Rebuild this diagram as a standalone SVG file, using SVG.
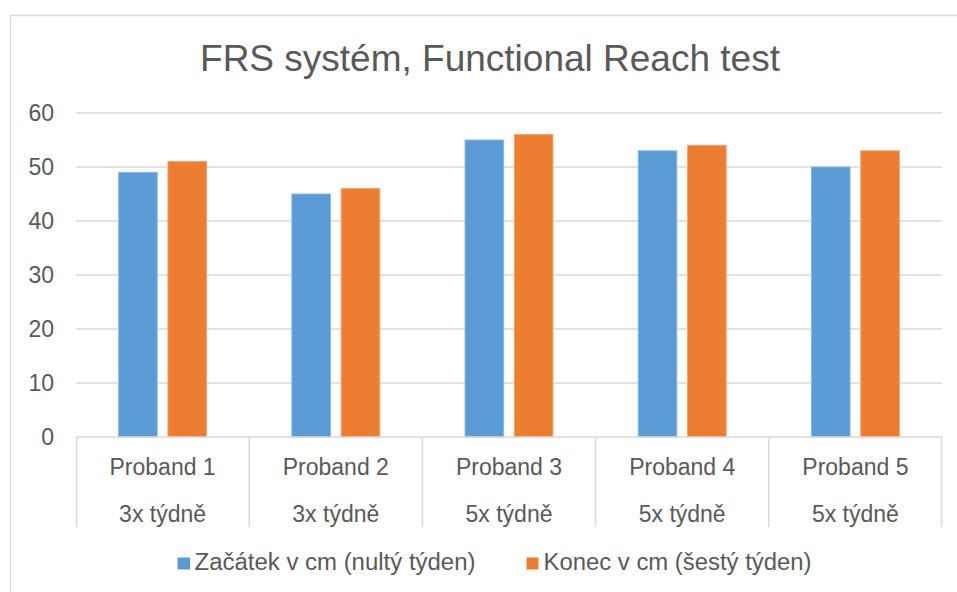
<svg xmlns="http://www.w3.org/2000/svg" width="957" height="592" viewBox="0 0 957 592">
  <style>
    .txt { font-family: "Liberation Sans", Arial, sans-serif; fill: #595959; }
    .title { font-size: 37px; text-anchor: middle; }
    .tick { font-size: 23px; text-anchor: end; }
    .cat { font-size: 23px; text-anchor: middle; }
    .leg { font-size: 23px; }
    .grid { stroke: #d9d9d9; stroke-width: 1.5; fill: none; }
    .frame { stroke: #d9d9d9; stroke-width: 1.3; fill: none; }
    .blue { fill: #5b9bd5; stroke: #8cb8e2; stroke-width: 1; }
    .orange { fill: #ed7d31; stroke: #f3a272; stroke-width: 1; }
  </style>

  <rect width="957" height="592" fill="#ffffff"/>
  <!-- chart area outline (top and left edges visible) -->
  <path class="frame" d="M10.5 592 V15.5 H957"/>

  <text class="txt title" x="490" y="71">FRS systém, Functional Reach test</text>

  <!-- value axis gridlines -->
  <g id="gridlines">
    <path class="grid" d="M76 113 H942 M76 167 H942 M76 221 H942 M76 275 H942 M76 329 H942 M76 383 H942"/>
  </g>
  <g id="value-axis">
    <text class="txt tick" x="54" y="121">60</text>
    <text class="txt tick" x="54" y="175">50</text>
    <text class="txt tick" x="54" y="229">40</text>
    <text class="txt tick" x="54" y="283">30</text>
    <text class="txt tick" x="54" y="337">20</text>
    <text class="txt tick" x="54" y="391">10</text>
    <text class="txt tick" x="54" y="445">0</text>
  </g>

  <!-- series bars -->
  <g id="series-start">
    <rect class="blue" x="118.65" y="172.4" width="38.6" height="264.6"/>
    <rect class="blue" x="291.85" y="194" width="38.6" height="243"/>
    <rect class="blue" x="465.05" y="140" width="38.6" height="297"/>
    <rect class="blue" x="638.25" y="150.8" width="38.6" height="286.2"/>
    <rect class="blue" x="811.45" y="167" width="38.6" height="270"/>
  </g>
  <g id="series-end">
    <rect class="orange" x="167.95" y="161.6" width="38.6" height="275.4"/>
    <rect class="orange" x="341.15" y="188.6" width="38.6" height="248.4"/>
    <rect class="orange" x="514.35" y="134.6" width="38.6" height="302.4"/>
    <rect class="orange" x="687.55" y="145.4" width="38.6" height="291.6"/>
    <rect class="orange" x="860.75" y="150.8" width="38.6" height="286.2"/>
  </g>

  <!-- category axis with two label rows -->
  <g id="category-axis">
    <path class="grid" d="M76 437 H942 M76.5 437 V527 M249.2 437 V527 M422.4 437 V527 M595.6 437 V527 M768.8 437 V527 M941.5 437 V527"/>
  </g>
  <g id="cat-1">
    <text class="txt cat" x="162.6" y="475">Proband 1</text>
    <text class="txt cat" x="162.6" y="522">3x týdně</text>
  </g>
  <g id="cat-2">
    <text class="txt cat" x="335.8" y="475">Proband 2</text>
    <text class="txt cat" x="335.8" y="522">3x týdně</text>
  </g>
  <g id="cat-3">
    <text class="txt cat" x="509" y="475">Proband 3</text>
    <text class="txt cat" x="509" y="522">5x týdně</text>
  </g>
  <g id="cat-4">
    <text class="txt cat" x="682.2" y="475">Proband 4</text>
    <text class="txt cat" x="682.2" y="522">5x týdně</text>
  </g>
  <g id="cat-5">
    <text class="txt cat" x="855.4" y="475">Proband 5</text>
    <text class="txt cat" x="855.4" y="522">5x týdně</text>
  </g>

  <!-- legend -->
  <g id="legend">
    <rect x="177.5" y="557.5" width="12.5" height="12" fill="#5b9bd5"/>
    <text class="txt leg" x="194.5" y="570" textLength="281" lengthAdjust="spacingAndGlyphs">Začátek v cm (nultý týden)</text>
    <rect x="526.5" y="557.5" width="12" height="12" fill="#ed7d31"/>
    <text class="txt leg" x="543.5" y="570" textLength="268" lengthAdjust="spacingAndGlyphs">Konec v cm (šestý týden)</text>
  </g>
</svg>
